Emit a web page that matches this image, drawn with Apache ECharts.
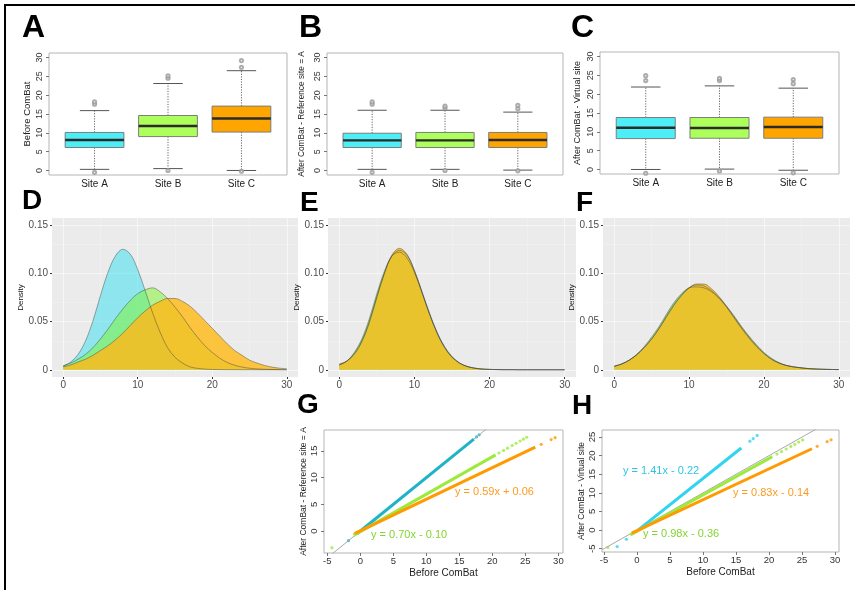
<!DOCTYPE html>
<html>
<head>
<meta charset="utf-8">
<script src="https://cdn.jsdelivr.net/npm/echarts@6/dist/echarts.min.js"></script>
<style>
html, body { margin: 0; padding: 0; background: #fff; }
#chart { width: 855px; height: 590px; }
</style>
</head>
<body>
<div id="chart"></div>
<script>
const sites = ['Site A', 'Site B', 'Site C'];
const sitePos = [1, 2, 3];

// box stats per site: [lower whisker, Q1, median, Q3, upper whisker]
const boxBefore = [[0.3, 6.1, 8.1, 10.1, 15.9], [0.5, 9.0, 11.8, 14.6, 23.1], [0.0, 10.2, 13.8, 17.1, 26.5]];
const boxRefA = [[0.3, 6.1, 8.0, 9.9, 16.0], [0.3, 6.1, 8.0, 10.1, 16.0], [0.1, 6.1, 8.1, 10.1, 15.5]];
const boxVirtual = [[0.0, 8.2, 11.1, 13.8, 21.9], [0.1, 8.3, 11.0, 13.8, 22.2], [-0.2, 8.3, 11.3, 13.9, 21.6]];

// outliers: [site position, value]
const outBefore = [[1, 17.6], [1, 18.2], [1, -0.5], [2, 24.5], [2, 25.1], [2, 0.0], [3, 27.4], [3, 29.2], [3, -0.2]];
const outRefA = [[1, 17.6], [1, 18.2], [1, -0.5], [2, 16.6], [2, 17.1], [2, 0.0], [3, 16.4], [3, 17.3], [3, -0.1]];
const outVirtual = [[1, 23.6], [1, 24.9], [1, -1.0], [2, 23.6], [2, 24.2], [2, -0.4], [3, 22.8], [3, 23.9], [3, -0.9]];

const boxTicks = [0, 5, 10, 15, 20, 25, 30];

// density curves, sampled at densX
const densX = [0, 1, 2, 3, 4, 5, 6, 7, 8, 9, 10, 11, 12, 13, 14, 15, 16, 17, 18, 19, 20, 21, 22, 23, 24, 25, 26, 27, 28, 29, 30];
const densBeforeA = [0.004, 0.008, 0.016, 0.030, 0.051, 0.077, 0.101, 0.118, 0.125, 0.120, 0.104, 0.082, 0.059, 0.039, 0.023, 0.013, 0.007, 0.003, 0.0015, 0.0007, 0.0003, 0.0002, 0.0001, 0.0001, 0, 0, 0, 0, 0, 0, 0];
const densBeforeB = [0.004, 0.007, 0.011, 0.016, 0.023, 0.032, 0.042, 0.053, 0.063, 0.072, 0.079, 0.083, 0.085, 0.081, 0.074, 0.065, 0.055, 0.044, 0.034, 0.025, 0.018, 0.012, 0.0076, 0.0047, 0.0028, 0.0016, 0.0009, 0.0005, 0.0003, 0.0002, 0.0001];
const densBeforeC = [0.003, 0.005, 0.008, 0.011, 0.015, 0.020, 0.025, 0.031, 0.038, 0.046, 0.054, 0.061, 0.067, 0.071, 0.074, 0.074, 0.071, 0.066, 0.059, 0.051, 0.043, 0.035, 0.027, 0.020, 0.015, 0.010, 0.007, 0.0045, 0.0028, 0.0017, 0.001];
const densRefA_A = [0.005, 0.009, 0.017, 0.030, 0.050, 0.076, 0.100, 0.118, 0.124, 0.119, 0.103, 0.081, 0.059, 0.039, 0.024, 0.013, 0.007, 0.0035, 0.0017, 0.0008, 0.0004, 0.0002, 0.0001, 0.0001, 0, 0, 0, 0, 0, 0, 0];
const densRefA_B = [0.005, 0.009, 0.018, 0.032, 0.053, 0.079, 0.102, 0.118, 0.122, 0.116, 0.101, 0.080, 0.058, 0.039, 0.024, 0.014, 0.007, 0.0035, 0.0017, 0.0008, 0.0004, 0.0002, 0.0001, 0.0001, 0, 0, 0, 0, 0, 0, 0];
const densRefA_C = [0.006, 0.009, 0.016, 0.029, 0.049, 0.075, 0.100, 0.119, 0.126, 0.120, 0.103, 0.081, 0.058, 0.038, 0.023, 0.013, 0.007, 0.0035, 0.0017, 0.0008, 0.0004, 0.0002, 0.0001, 0.0001, 0, 0, 0, 0, 0, 0, 0];
const densVirt_A = [0.0038, 0.0062, 0.010, 0.0155, 0.023, 0.032, 0.043, 0.056, 0.068, 0.078, 0.085, 0.088, 0.087, 0.082, 0.075, 0.065, 0.054, 0.043, 0.033, 0.024, 0.017, 0.011, 0.007, 0.0045, 0.003, 0.002, 0.0012, 0.0008, 0.0005, 0.0003, 0.0002];
const densVirt_B = [0.0035, 0.006, 0.010, 0.016, 0.024, 0.034, 0.045, 0.058, 0.070, 0.079, 0.085, 0.086, 0.085, 0.081, 0.074, 0.066, 0.056, 0.045, 0.035, 0.026, 0.018, 0.012, 0.0075, 0.0045, 0.003, 0.002, 0.0012, 0.0008, 0.0005, 0.0003, 0.0002];
const densVirt_C = [0.0036, 0.006, 0.010, 0.0155, 0.023, 0.032, 0.043, 0.055, 0.067, 0.077, 0.085, 0.089, 0.089, 0.084, 0.076, 0.066, 0.055, 0.044, 0.034, 0.025, 0.017, 0.011, 0.007, 0.0045, 0.003, 0.002, 0.0012, 0.0008, 0.0005, 0.0003, 0.0002];

const densXTicks = [0, 10, 20, 30];
const densXMinor = [5, 15, 25];
const densYTicks = [0, 0.05, 0.10, 0.15];
const densYMinor = [0.025, 0.075, 0.125];

// after vs before ComBat: fitted lines per site (A, B, C)
const refSlopes = [1.00, 0.70, 0.59];
const refIntercepts = [0.00, -0.10, 0.06];
const refDense = [[-0.5, 17.2], [-1.0, 20.5], [-0.8, 26.5]];
const refSparse = [[-1.8, 17.6, 18.0], [-4.3, 21.0, 21.7, 22.3, 23.0, 23.6, 24.2, 24.7, 25.2], [-0.8, -0.4, 27.4, 28.9, 29.5]];
const virtSlopes = [1.41, 0.98, 0.83];
const virtIntercepts = [-0.22, -0.36, -0.14];
const virtDense = [[0.2, 15.8], [-1.0, 20.5], [-0.8, 26.5]];
const virtSparse = [[-3.0, -1.6, 17.1, 17.6, 18.2], [-4.4, 21.2, 21.9, 22.6, 23.3, 23.9, 24.5, 25.1], [27.3, 28.8, 29.4]];

const scatXTicks = [-5, 0, 5, 10, 15, 20, 25, 30];
const refYTicks = [0, 5, 10, 15];
const virtYTicks = [-5, 0, 5, 10, 15, 20, 25];

const FONT = 'Liberation Sans, Arial, sans-serif';
const boxColors = ['#4DEEF6', '#ADFF5C', '#FFA500'];
const densFills = ['rgba(51,224,240,0.5)', 'rgba(124,245,42,0.5)', 'rgba(255,185,25,0.82)'];

const chart = echarts.init(document.getElementById('chart'));
const grids = [], xAxes = [], yAxes = [], series = [], graphics = [];

function boxItem(params, api) {
    const pos = api.value(0);
    const lo = api.value(1), q1 = api.value(2), med = api.value(3), q3 = api.value(4), hi = api.value(5);
    const p = (x, y) => api.coord([x, y]);
    const left = p(pos - 0.4, q3)[0], right = p(pos + 0.4, q1)[0];
    const capL = p(pos - 0.2, hi)[0], capR = p(pos + 0.2, hi)[0];
    const cx = p(pos, med)[0];
    const yHi = p(pos, hi)[1], yLo = p(pos, lo)[1], yQ1 = p(pos, q1)[1], yQ3 = p(pos, q3)[1], yMed = p(pos, med)[1];
    const whisk = { stroke: '#666', lineWidth: 1, lineDash: [1.2, 1.4] };
    const solid = { stroke: '#555', lineWidth: 1 };
    return {
        type: 'group',
        children: [
            { type: 'line', shape: { x1: cx, y1: yQ3, x2: cx, y2: yHi }, style: whisk },
            { type: 'line', shape: { x1: cx, y1: yQ1, x2: cx, y2: yLo }, style: whisk },
            { type: 'line', shape: { x1: capL, y1: yHi, x2: capR, y2: yHi }, style: solid },
            { type: 'line', shape: { x1: capL, y1: yLo, x2: capR, y2: yLo }, style: solid },
            { type: 'rect', shape: { x: left, y: yQ3, width: right - left, height: yQ1 - yQ3 },
              style: { fill: boxColors[params.dataIndex], stroke: '#7d7d7d', lineWidth: 1 } },
            { type: 'line', shape: { x1: left, y1: yMed, x2: right, y2: yMed }, style: { stroke: '#2b2b2b', lineWidth: 2.4 } }
        ]
    };
}

function addBoxPanel(stats, outliers, title, grid, nameGap, nameSize) {
    const gi = grids.length;
    grids.push(Object.assign({ show: true, borderColor: '#b5b5b5', borderWidth: 1, backgroundColor: 'transparent' }, grid));
    xAxes.push({
        type: 'value', gridIndex: gi, min: 0.38, max: 3.62,
        axisLine: { show: false, onZero: false }, axisTick: { show: false }, splitLine: { show: false },
        axisLabel: { customValues: sitePos, formatter: v => sites[Math.round(v) - 1], fontFamily: FONT, fontSize: 10, color: '#222', margin: 4 }
    });
    yAxes.push({
        type: 'value', gridIndex: gi, min: -1.2, max: 31.2,
        name: title, nameLocation: 'middle', nameGap: nameGap,
        nameTextStyle: { fontFamily: FONT, fontSize: nameSize, color: '#222' },
        axisLine: { show: false, onZero: false }, splitLine: { show: false },
        axisTick: { show: true, customValues: boxTicks, length: 3, lineStyle: { color: '#777' } },
        axisLabel: { customValues: boxTicks, rotate: 90, fontFamily: FONT, fontSize: 9, color: '#333', margin: 5 }
    });
    series.push({
        type: 'custom', xAxisIndex: gi, yAxisIndex: gi, renderItem: boxItem, clip: false,
        encode: { x: 0, y: [1, 2, 3, 4, 5] },
        data: stats.map((s, k) => [sitePos[k]].concat(s))
    });
    series.push({
        type: 'scatter', xAxisIndex: gi, yAxisIndex: gi, symbol: 'emptyCircle', symbolSize: 3.2,
        itemStyle: { color: '#999', borderWidth: 0.8 }, data: outliers
    });
}

function addDensityPanel(curves, grid, nameGap) {
    const gi = grids.length;
    grids.push(Object.assign({ show: true, backgroundColor: '#EBEBEB', borderWidth: 0 }, grid));
    xAxes.push({
        type: 'value', gridIndex: gi, min: -1.5, max: 31.5,
        axisLine: { show: false, onZero: false }, splitLine: { show: false },
        axisTick: { show: true, customValues: densXTicks, length: 2, lineStyle: { color: '#333' } },
        axisLabel: { customValues: densXTicks, fontFamily: FONT, fontSize: 10, color: '#4D4D4D', margin: 3 }
    });
    yAxes.push({
        type: 'value', gridIndex: gi, min: -0.0075, max: 0.1575,
        name: 'Density', nameLocation: 'middle', nameGap: nameGap,
        nameTextStyle: { fontFamily: FONT, fontSize: 8, color: '#111' },
        axisLine: { show: false, onZero: false }, splitLine: { show: false },
        axisTick: { show: true, customValues: densYTicks, length: 2, lineStyle: { color: '#333' } },
        axisLabel: { customValues: densYTicks, formatter: v => v === 0 ? '0' : v.toFixed(2),
                     fontFamily: FONT, fontSize: 10, color: '#4D4D4D', margin: 4 }
    });
    const major = { color: '#ffffff', width: 1, type: 'solid', opacity: 0.55 };
    const minor = { color: '#ffffff', width: 0.5, type: 'solid', opacity: 0.45 };
    series.push({
        type: 'line', xAxisIndex: gi, yAxisIndex: gi, z: 1, silent: true, showSymbol: false,
        lineStyle: { opacity: 0 }, data: [[0, 0]],
        markLine: {
            silent: true, symbol: 'none', z: 1, label: { show: false },
            data: densXTicks.map(v => ({ xAxis: v, lineStyle: major }))
                .concat(densXMinor.map(v => ({ xAxis: v, lineStyle: minor })))
                .concat(densYTicks.map(v => ({ yAxis: v, lineStyle: major })))
                .concat(densYMinor.map(v => ({ yAxis: v, lineStyle: minor })))
        }
    });
    curves.forEach((vals, k) => {
        series.push({
            type: 'line', xAxisIndex: gi, yAxisIndex: gi, z: 2, smooth: 0.35, showSymbol: false, symbol: 'none',
            lineStyle: { color: 'rgba(60,60,60,0.55)', width: 0.8 },
            areaStyle: { color: densFills[k], opacity: 1 },
            data: densX.map((x, i) => [x, vals[i]])
        });
    });
}

function addScatterPanel(slopes, intercepts, dense, sparse, colors, grid, xr, yr, yTicks, title, nameGap) {
    const gi = grids.length;
    grids.push(Object.assign({ show: true, borderColor: '#b5b5b5', borderWidth: 1, backgroundColor: 'transparent' }, grid));
    xAxes.push({
        type: 'value', gridIndex: gi, min: xr[0], max: xr[1],
        name: 'Before ComBat', nameLocation: 'middle', nameGap: 15,
        nameTextStyle: { fontFamily: FONT, fontSize: 10, color: '#222' },
        axisLine: { show: false, onZero: false }, splitLine: { show: false },
        axisTick: { show: true, customValues: scatXTicks, length: 3, lineStyle: { color: '#777' } },
        axisLabel: { customValues: scatXTicks, fontFamily: FONT, fontSize: 9.5, color: '#333', margin: 3 }
    });
    yAxes.push({
        type: 'value', gridIndex: gi, min: yr[0], max: yr[1],
        name: title, nameLocation: 'middle', nameGap: nameGap,
        nameTextStyle: { fontFamily: FONT, fontSize: 8.5, color: '#222' },
        axisLine: { show: false, onZero: false }, splitLine: { show: false },
        axisTick: { show: true, customValues: yTicks, length: 3, lineStyle: { color: '#777' } },
        axisLabel: { customValues: yTicks, rotate: 90, fontFamily: FONT, fontSize: 9.5, color: '#333', margin: 5 }
    });
    series.push({
        type: 'line', xAxisIndex: gi, yAxisIndex: gi, showSymbol: false, clip: true,
        lineStyle: { color: '#a8a8a8', width: 1 },
        data: [[xr[0], xr[0]], [xr[1], xr[1]]]
    });
    slopes.forEach((a, k) => {
        const b = intercepts[k];
        series.push({
            type: 'line', xAxisIndex: gi, yAxisIndex: gi, showSymbol: false, clip: true,
            lineStyle: { color: colors[k], width: 3 },
            data: dense[k].map(x => [x, a * x + b])
        });
        series.push({
            type: 'scatter', xAxisIndex: gi, yAxisIndex: gi, symbolSize: 3.2,
            itemStyle: { color: colors[k] },
            data: sparse[k].map(x => [x, a * x + b])
        });
    });
}

addBoxPanel(boxBefore, outBefore, 'Before ComBat', { left: 49, top: 53, width: 238, height: 122 }, 17, 9.5);
addBoxPanel(boxRefA, outRefA, 'After ComBat - Reference site = A', { left: 327, top: 53, width: 236, height: 122 }, 21, 8.3);
addBoxPanel(boxVirtual, outVirtual, 'After ComBat - Virtual site', { left: 600, top: 52, width: 239, height: 122 }, 18, 9);

addDensityPanel([densBeforeA, densBeforeB, densBeforeC], { left: 52, top: 218, width: 246, height: 159 }, 18);
addDensityPanel([densRefA_A, densRefA_B, densRefA_C], { left: 328, top: 218, width: 248, height: 159 }, 18);
addDensityPanel([densVirt_A, densVirt_B, densVirt_C], { left: 603, top: 218, width: 247, height: 159 }, 18);

addScatterPanel(refSlopes, refIntercepts, refDense, refSparse, ['#1FB3C6', '#9EEA3C', '#FF9A00'],
    { left: 324, top: 430, width: 239, height: 123 }, [-5.5, 30.7], [-4.1, 18.9], refYTicks,
    'After ComBat - Reference site = A', 16);
addScatterPanel(virtSlopes, virtIntercepts, virtDense, virtSparse, ['#30D4EE', '#9EEA3C', '#FF9A00'],
    { left: 602, top: 430, width: 237, height: 122 }, [-5.3, 30.6], [-5.9, 26.9], virtYTicks,
    'After ComBat - Virtual site', 16);

function letter(t, x, y, size) {
    return { type: 'text', x: x, y: y, silent: true,
             style: { text: t, font: 'bold ' + size + 'px ' + FONT, fill: '#000', verticalAlign: 'top' } };
}
function eq(t, x, y, color) {
    return { type: 'text', x: x, y: y, silent: true,
             style: { text: t, font: '11px ' + FONT, fill: color, verticalAlign: 'middle' } };
}

graphics.push(
    { type: 'line', shape: { x1: 4, y1: 5, x2: 855, y2: 5 }, style: { stroke: '#000', lineWidth: 2 } },
    { type: 'line', shape: { x1: 5, y1: 4, x2: 5, y2: 590 }, style: { stroke: '#000', lineWidth: 2 } },
    letter('A', 22, 12, 32), letter('B', 299, 12, 32), letter('C', 571, 12, 32),
    letter('D', 22, 187, 28), letter('E', 300, 189, 28), letter('F', 576, 189, 28),
    letter('G', 297, 391, 28), letter('H', 572, 392, 28),
    eq('y = 0.59x + 0.06', 455, 492, '#FF9A1E'),
    eq('y = 0.70x - 0.10', 371, 535, '#84D332'),
    eq('y = 1.41x - 0.22', 623, 471, '#2CC6E2'),
    eq('y = 0.83x - 0.14', 733, 493, '#FF9A1E'),
    eq('y = 0.98x - 0.36', 643, 534, '#84D332')
);

chart.setOption({
    animation: false,
    grid: grids,
    xAxis: xAxes,
    yAxis: yAxes,
    series: series,
    graphic: graphics
});
</script>
</body>
</html>
